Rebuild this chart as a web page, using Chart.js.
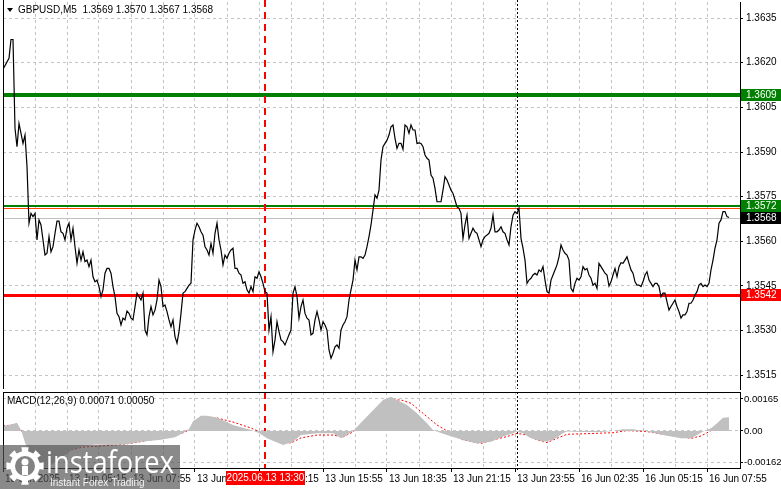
<!DOCTYPE html>
<html>
<head>
<meta charset="utf-8">
<script src="https://cdn.jsdelivr.net/npm/chart.js@4.4.0/dist/chart.umd.min.js"></script>
<style>
  html, body { margin: 0; padding: 0; background: #fff; }
  #wrap { position: relative; width: 781px; height: 489px; overflow: hidden; }
  #priceChart { position: absolute; left: 0; top: 0; }
  #macdChart { position: absolute; left: 0; top: 390px; }
</style>
</head>
<body>
<div id="wrap">
  <canvas id="priceChart" width="781" height="390"></canvas>
  <canvas id="macdChart" width="781" height="99"></canvas>
</div>
<script>
// GBPUSD M5, one close per bar (bar 0 = 13 Jun 02:35)
const symbol = "GBPUSD,M5";
const ohlc = [1.3569, 1.3570, 1.3567, 1.3568];
const closes = [
  1.36178, null, null, 1.36215, 1.36278, 1.36278, 1.35980, 1.35918, 1.35996, 1.35963,
  1.35929, 1.35957, 1.35851, 1.35661, 1.35694, 1.35683, 1.35694, 1.35605, 1.35672, 1.35655,
  1.35605, 1.35554, 1.35560, 1.35616, 1.35565, 1.35582, 1.35627, 1.35668, 1.35668, 1.35632,
  1.35627, 1.35605, 1.35644, 1.35661, 1.35605, 1.35644, 1.35582, 1.35526, 1.35571, 1.35537,
  1.35565, 1.35532, 1.35537, 1.35515, 1.35537, 1.35481, 1.35464, 1.35470, 1.35448, 1.35414,
  1.35437, 1.35493, 1.35509, 1.35509, 1.35493, 1.35448, 1.35414, 1.35358, 1.35347, 1.35319,
  1.35342, 1.35336, 1.35366, 1.35358, 1.35342, 1.35336, 1.35381, 1.35426, 1.35414, 1.35403,
  1.35426, 1.35302, 1.35286, 1.35347, 1.35381, 1.35353, 1.35369, 1.35403, 1.35470, 1.35448,
  1.35381, 1.35386, 1.35364, 1.35336, 1.35313, 1.35336, 1.35280, 1.35258, 1.35297, 1.35358,
  1.35426, 1.35431, 1.35442, 1.35453, 1.35459, 1.35605, 1.35638, 1.35661, 1.35649, 1.35632,
  1.35621, 1.35582, 1.35571, 1.35554, 1.35593, 1.35560, 1.35627, 1.35661, 1.35605, 1.35571,
  1.35521, 1.35554, 1.35543, 1.35560, 1.35571, 1.35577, 1.35509, 1.35509, 1.35493, 1.35487,
  1.35459, 1.35464, 1.35437, 1.35426, 1.35448, 1.35431, 1.35481, 1.35476, 1.35498, 1.35481,
  1.35459, 1.35431, 1.35426, 1.35302, 1.35347, 1.35229, 1.35269, 1.35330, 1.35297, 1.35269,
  1.35263, 1.35252, 1.35269, 1.35286, 1.35302, 1.35426, 1.35448, 1.35414, 1.35342, 1.35381,
  1.35403, 1.35358, 1.35342, 1.35336, 1.35286, 1.35291, 1.35336, 1.35364, 1.35336, 1.35302,
  1.35330, 1.35319, 1.35302, 1.35235, 1.35207, 1.35224, 1.35246, 1.35252, 1.35241, 1.35302,
  1.35319, 1.35330, 1.35347, 1.35403, 1.35437, 1.35470, 1.35537, 1.35504, 1.35548, 1.35548,
  1.35543, 1.35554, 1.35582, 1.35616, 1.35655, 1.35705, 1.35756, 1.35745, 1.35772, 1.35873,
  1.35918, 1.35929, 1.35940, 1.35957, 1.35985, 1.35991, 1.35946, 1.35912, 1.35929, 1.35929,
  1.35909, 1.35991, 1.35985, 1.35963, 1.35991, 1.35974, 1.35974, 1.35929, 1.35931, 1.35929,
  1.35918, 1.35890, 1.35879, 1.35873, 1.35823, 1.35812, 1.35778, 1.35733, 1.35733, 1.35733,
  1.35772, 1.35817, 1.35806, 1.35789, 1.35772, 1.35761, 1.35739, 1.35716, 1.35711, 1.35694,
  1.35610, 1.35655, 1.35688, 1.35610, 1.35627, 1.35644, 1.35632, 1.35627, 1.35605, 1.35582,
  1.35605, 1.35616, 1.35621, 1.35627, 1.35644, 1.35688, 1.35632, 1.35632, 1.35638, 1.35649,
  1.35632, 1.35627, 1.35605, 1.35588, 1.35649, 1.35688, 1.35700, 1.35694, 1.35711, 1.35610,
  1.35577, 1.35537, 1.35459, 1.35470, 1.35476, 1.35487, 1.35493, 1.35487, 1.35504, 1.35498,
  1.35515, 1.35470, 1.35431, 1.35426, 1.35470, 1.35487, 1.35504, 1.35521, 1.35548, 1.35588,
  1.35571, 1.35560, 1.35554, 1.35537, 1.35442, 1.35431, 1.35459, 1.35476, 1.35470, 1.35481,
  1.35515, 1.35504, 1.35509, 1.35487, 1.35476, 1.35453, 1.35459, 1.35442, 1.35526, 1.35515,
  1.35504, 1.35493, 1.35487, 1.35450, 1.35464, 1.35487, 1.35509, 1.35481, 1.35515, 1.35528,
  1.35526, 1.35537, 1.35548, 1.35526, 1.35504, 1.35493, 1.35464, 1.35453, 1.35453, 1.35448,
  1.35464, 1.35487, 1.35498, 1.35470, 1.35459, 1.35448, 1.35459, 1.35459, 1.35448, 1.35414,
  1.35426, 1.35426, 1.35397, 1.35369, 1.35381, 1.35392, 1.35403, 1.35381, 1.35364, 1.35342,
  1.35353, 1.35353, 1.35364, 1.35392, 1.35392, 1.35403, 1.35420, 1.35431, 1.35453, 1.35459,
  1.35448, 1.35453, 1.35448, 1.35459, 1.35504, 1.35537, 1.35577, 1.35605, 1.35661, 1.35672,
  1.35700, 1.35700, 1.35683, 1.35680
];

// MACD(12,26,9): main (histogram) and signal, read at a set of bars
const macdBars = [0, 4, 7, 9, 11, 14, 16, 19, 22, 26, 30, 34, 39, 46, 54, 61, 69, 79, 86, 90,
  93, 95, 99, 102, 107, 115, 124, 128, 132, 140, 145, 149, 157, 165, 169, 172, 175, 182, 190, 194,
  197, 202, 207, 212, 215, 219, 222, 230, 237, 244, 250, 255, 257, 260, 264, 270, 275, 280, 282, 289,
  299, 305, 310, 315, 322, 330, 339, 344, 347, 350, 354, 357, 360, 363];
const macdMain = [0.00026, 0.00033, 0.00043, 0.00005, -0.00060, -0.00130, -0.00170, -0.00190, -0.00190, -0.00160,
  -0.00130, -0.00100, -0.00080, -0.00070, -0.00072, -0.00070, -0.00055, -0.00045, -0.00033, -0.00010,
  0.00010, 0.00050, 0.00079, 0.00079, 0.00070, 0.00031, 0.00005, -0.00010, -0.00038, -0.00072,
  -0.00055, -0.00021, -0.00012, -0.00012, -0.00038, -0.00021, 0.00000, 0.00074, 0.00160, 0.00177,
  0.00160, 0.00134, 0.00091, 0.00040, 0.00005, -0.00010, -0.00021, -0.00046, -0.00064, -0.00055,
  -0.00029, -0.00012, -0.00003, -0.00012, -0.00038, -0.00055, -0.00046, -0.00012, -0.00003, -0.00005,
  -0.00005, 0.00000, 0.00009, 0.00009, -0.00003, -0.00021, -0.00038, -0.00038, -0.00021, -0.00003,
  0.00014, 0.00040, 0.00068, 0.00071];
const signalBars = [0, 5, 9, 14, 19, 24, 29, 34, 40, 49, 57, 65, 74, 82, 90, 95, 100, 107, 115, 124,
  132, 140, 144, 149, 157, 165, 170, 175, 182, 190, 195, 199, 204, 210, 217, 224, 230, 239, 245, 252,
  257, 262, 267, 272, 277, 282, 289, 297, 305, 312, 322, 330, 339, 344, 349, 354, 357, 362];
const signalValues = [0.00026, 0.00031, 0.00005, -0.00062, -0.00134, -0.00160, -0.00134, -0.00098, -0.00083, -0.00077,
  -0.00072, -0.00062, -0.00046, -0.00021, -0.00010, 0.00015, 0.00062, 0.00067, 0.00046, 0.00015,
  -0.00021, -0.00057, -0.00062, -0.00036, -0.00021, -0.00021, -0.00031, -0.00005, 0.00057, 0.00144,
  0.00160, 0.00160, 0.00143, 0.00091, 0.00031, -0.00012, -0.00046, -0.00064, -0.00046, -0.00029,
  -0.00012, -0.00021, -0.00046, -0.00060, -0.00038, -0.00017, -0.00015, -0.00012, -0.00009, 0.00002,
  -0.00003, -0.00017, -0.00029, -0.00038, -0.00026, 0.00002, 0.00022, 0.00050];

// axis ticks
const priceTicks = [1.3515, 1.3530, 1.3545, 1.3560, 1.3575, 1.3590, 1.3605, 1.3620, 1.3635];
const macdTicks = [-0.00162, 0, 0.00165];
const timeLabels = ["13 Jun 2025", "13 Jun 05:15", "13 Jun 07:55", "13 Jun 10:35", "13 Jun 13:15", "13 Jun 15:55",
  "13 Jun 18:35", "13 Jun 21:15", "13 Jun 23:55", "16 Jun 02:35", "16 Jun 05:15", "16 Jun 07:55"];

// horizontal levels and markers
const levelPrices = [1.3609, 1.3572, 1.35712, 1.3542];
const crossBar = 131;
const crossLabel = "2025.06.13 13:30";
const separatorBar = 257;

const levelStyles = [
  { color: "#008000", width: 4 },
  { color: "#008000", width: 2 },
  { color: "#ff4500", width: 1 },
  { color: "#ff0000", width: 3 }
];
const FONT = '"Liberation Sans", Arial, sans-serif';
const GRID = "#c4c4c4";

Chart.defaults.font.family = FONT;
Chart.defaults.font.size = 10;
Chart.defaults.color = "#000";

const gridBars = [];
for (let b = 0; b <= 352; b += 16) gridBars.push(b);

// keep the plot box fixed: no extra room for overhanging tick labels
function noPad(s) {
  s.paddingTop = 0;
  s.paddingBottom = 0;
  s.paddingLeft = 0;
  s.paddingRight = 0;
}

function hLine(ctx, a, y, color, width) {
  const yy = width % 2 ? Math.round(y) + 0.5 : Math.round(y);
  ctx.beginPath();
  ctx.setLineDash([]);
  ctx.strokeStyle = color;
  ctx.lineWidth = width;
  ctx.moveTo(a.left, yy);
  ctx.lineTo(a.right, yy);
  ctx.stroke();
}

function vLine(ctx, top, bottom, x, color, dash, width) {
  const xx = width % 2 ? Math.round(x) + 0.5 : Math.round(x);
  ctx.beginPath();
  ctx.setLineDash(dash);
  ctx.strokeStyle = color;
  ctx.lineWidth = width;
  ctx.moveTo(xx, top);
  ctx.lineTo(xx, bottom);
  ctx.stroke();
  ctx.setLineDash([]);
}

function priceTag(ctx, a, y, text, bg) {
  const yy = Math.round(y);
  ctx.fillStyle = bg;
  ctx.fillRect(a.right + 1, yy - 6, 42, 12);
  ctx.fillStyle = "#fff";
  ctx.font = "10px " + FONT;
  ctx.textBaseline = "middle";
  ctx.textAlign = "left";
  ctx.fillText(text, a.right + 6, yy + 0.5);
}

const priceDecor = {
  id: "priceDecor",
  beforeDatasetsDraw(chart) {
    const { ctx, chartArea: a, scales: { x, y } } = chart;
    ctx.save();
    hLine(ctx, a, y.getPixelForValue(ohlc[3]), "#c0c0c0", 1);
    levelPrices.forEach((p, i) => hLine(ctx, a, y.getPixelForValue(p), levelStyles[i].color, levelStyles[i].width));
    vLine(ctx, 0, a.bottom, x.getPixelForValue(crossBar), "#ff0000", [7, 5], 2);
    vLine(ctx, 0, a.bottom, x.getPixelForValue(separatorBar), "#000", [2, 2], 1);
    ctx.restore();
  },
  afterDraw(chart) {
    const { ctx, chartArea: a, scales: { y } } = chart;
    ctx.save();
    // left frame
    ctx.strokeStyle = "#000";
    ctx.lineWidth = 1;
    ctx.beginPath();
    ctx.moveTo(a.left + 0.5, 0);
    ctx.lineTo(a.left + 0.5, a.bottom);
    ctx.stroke();
    // tags on the price scale
    priceTag(ctx, a, y.getPixelForValue(levelPrices[0]), levelPrices[0].toFixed(4), "#008000");
    priceTag(ctx, a, y.getPixelForValue(levelPrices[1]), levelPrices[1].toFixed(4), "#008000");
    priceTag(ctx, a, y.getPixelForValue(ohlc[3]), ohlc[3].toFixed(4), "#000");
    priceTag(ctx, a, y.getPixelForValue(levelPrices[3]), levelPrices[3].toFixed(4), "#ff0000");
    // title
    ctx.fillStyle = "#000";
    ctx.beginPath();
    ctx.moveTo(7, 8); ctx.lineTo(13, 8); ctx.lineTo(10, 12); ctx.closePath();
    ctx.fill();
    ctx.font = "10px " + FONT;
    ctx.textBaseline = "middle";
    ctx.textAlign = "left";
    ctx.fillText(symbol + "  " + ohlc.map(v => v.toFixed(4)).join(" "), 18, 10.5);
    ctx.restore();
  }
};

const macdDecor = {
  id: "macdDecor",
  beforeDatasetsDraw(chart) {
    const { ctx, chartArea: a, scales: { x } } = chart;
    ctx.save();
    vLine(ctx, a.top, a.bottom, x.getPixelForValue(crossBar), "#ff0000", [7, 5], 2);
    vLine(ctx, a.top, a.bottom + 3, x.getPixelForValue(separatorBar), "#000", [2, 2], 1);
    ctx.restore();
  },
  afterDraw(chart) {
    const { ctx, chartArea: a, scales: { x } } = chart;
    ctx.save();
    // frame top and left
    ctx.strokeStyle = "#000";
    ctx.lineWidth = 1;
    ctx.beginPath();
    ctx.moveTo(a.left, a.top + 0.5);
    ctx.lineTo(a.right, a.top + 0.5);
    ctx.moveTo(a.left + 0.5, a.top);
    ctx.lineTo(a.left + 0.5, a.bottom);
    ctx.stroke();
    // indicator title
    ctx.fillStyle = "#000";
    ctx.font = "10px " + FONT;
    ctx.textBaseline = "middle";
    ctx.textAlign = "left";
    ctx.fillText("MACD(12,26,9) " + macdMain[macdMain.length - 1].toFixed(5) + " " +
      signalValues[signalValues.length - 1].toFixed(5), 7, 11);
    // crosshair time box
    const cx = Math.round(x.getPixelForValue(crossBar));
    ctx.fillStyle = "#ff0000";
    ctx.fillRect(cx - 39, a.bottom + 3, 79, 14);
    ctx.fillStyle = "#fff";
    ctx.textAlign = "center";
    ctx.fillText(crossLabel, cx + 0.5, a.bottom + 10.5);
    // watermark
    ctx.fillStyle = "rgba(80,80,80,0.67)";
    ctx.fillRect(0, 55, 180, 44);
    ctx.fillStyle = "#fff";
    const gx = 25, gy = 76;
    ctx.beginPath();
    for (let i = 0; i < 16; i++) {
      const ang = i * Math.PI / 8;
      const r = i % 2 ? 15 : 19;
      ctx.lineTo(gx + r * Math.cos(ang - Math.PI / 16), gy + r * Math.sin(ang - Math.PI / 16));
      ctx.lineTo(gx + r * Math.cos(ang + Math.PI / 16), gy + r * Math.sin(ang + Math.PI / 16));
    }
    ctx.closePath();
    ctx.fill();
    ctx.fillStyle = "rgb(130,130,130)";
    ctx.beginPath(); ctx.arc(gx, gy, 10, 0, Math.PI * 2); ctx.fill();
    ctx.fillStyle = "#fff";
    ctx.beginPath(); ctx.arc(gx, gy - 4, 3.5, 0, Math.PI * 2); ctx.fill();
    ctx.fillRect(gx - 3, gy, 6, 9);
    ctx.textAlign = "left";
    ctx.textBaseline = "alphabetic";
    ctx.font = '31px "Open Sans", sans-serif';
    const word = "instaforex";
    const w = ctx.measureText(word).width;
    ctx.translate(46, 83);
    ctx.scale(128 / w, 1);
    ctx.fillText(word, 0, 0);
    ctx.setTransform(1, 0, 0, 1, 0, 0);
    ctx.font = "10px " + FONT;
    ctx.fillStyle = "rgba(255,255,255,0.9)";
    ctx.fillText("Instant Forex Trading", 50, 96);
    ctx.restore();
  }
};

new Chart(document.getElementById("priceChart"), {
  type: "line",
  data: {
    datasets: [{
      data: closes.map((c, i) => ({ x: i, y: c })),
      borderColor: "#000",
      borderWidth: 1.2,
      pointRadius: 0,
      tension: 0,
      spanGaps: true
    }]
  },
  options: {
    responsive: false,
    animation: false,
    devicePixelRatio: 1,
    events: [],
    layout: { padding: { left: 3, top: 2, right: 0, bottom: 1 } },
    plugins: { legend: { display: false }, tooltip: { enabled: false } },
    scales: {
      x: {
        type: "linear",
        min: 0,
        max: 368.5,
        afterBuildTicks: s => { s.ticks = gridBars.slice(1).map(v => ({ value: v })); },
        afterFit: s => { s.height = 0; noPad(s); },
        ticks: { display: false },
        grid: { color: GRID, drawTicks: false },
        border: { display: false, dash: [3, 3] }
      },
      y: {
        position: "right",
        min: 1.35104,
        max: 1.36404,
        afterBuildTicks: s => { s.ticks = priceTicks.map(v => ({ value: v })); },
        afterFit: s => { s.width = 41; noPad(s); },
        ticks: { callback: v => v.toFixed(4), padding: 3 },
        grid: { color: GRID, tickColor: "#000", tickLength: 3, tickBorderDash: [] },
        border: { display: true, color: "#000", dash: [3, 3] }
      }
    }
  },
  plugins: [priceDecor]
});

new Chart(document.getElementById("macdChart"), {
  type: "line",
  data: {
    datasets: [
      {
        data: macdBars.map((b, i) => ({ x: b, y: macdMain[i] })),
        fill: "origin",
        backgroundColor: "#c0c0c0",
        borderWidth: 0,
        pointRadius: 0,
        tension: 0
      },
      {
        data: signalBars.map((b, i) => ({ x: b, y: signalValues[i] })),
        borderColor: "#ff0000",
        borderWidth: 1,
        borderDash: [2, 2],
        pointRadius: 0,
        tension: 0
      }
    ]
  },
  options: {
    responsive: false,
    animation: false,
    devicePixelRatio: 1,
    events: [],
    layout: { padding: { left: 3, top: 2, right: 0, bottom: 0 } },
    plugins: { legend: { display: false }, tooltip: { enabled: false } },
    scales: {
      x: {
        type: "linear",
        min: 0,
        max: 368.5,
        afterBuildTicks: s => { s.ticks = gridBars.map(v => ({ value: v })); },
        afterFit: s => { s.height = 21; noPad(s); },
        ticks: {
          autoSkip: false,
          maxRotation: 0,
          align: "start",
          labelOffset: 2,
          padding: 1,
          callback: v => (v % 32 === 0 ? timeLabels[v / 32] : "")
        },
        grid: {
          color: GRID,
          tickLength: 4,
          tickColor: c => (c.index % 2 === 0 ? "#000" : "rgba(0,0,0,0)"),
          tickBorderDash: []
        },
        border: { display: true, color: "#000", dash: [3, 3] }
      },
      y: {
        position: "right",
        min: -0.00191,
        max: 0.00201,
        afterBuildTicks: s => { s.ticks = macdTicks.map(v => ({ value: v })); },
        afterFit: s => { s.width = 41; noPad(s); },
        ticks: { callback: v => (v === 0 ? "0.00" : v.toFixed(5)), padding: 1, font: { size: 9.5 } },
        grid: { color: GRID, tickColor: "#000", tickLength: 3, tickBorderDash: [] },
        border: { display: true, color: "#000", dash: [3, 3] }
      }
    }
  },
  plugins: [macdDecor]
});
</script>
</body>
</html>
